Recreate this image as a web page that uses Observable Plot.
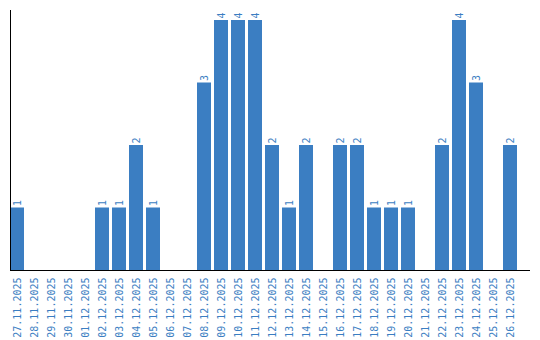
<!DOCTYPE html>
<html><head><meta charset="utf-8">
<script src="https://cdn.jsdelivr.net/npm/d3@7"></script>
<script src="https://cdn.jsdelivr.net/npm/@observablehq/plot@0.6"></script>
<style>body{margin:0;background:#fff}#c{width:540px;height:340px}</style>
</head><body><div id="c"></div>
<script>
const dates = ["27.11.2025","28.11.2025","29.11.2025","30.11.2025","01.12.2025","02.12.2025","03.12.2025","04.12.2025","05.12.2025","06.12.2025","07.12.2025","08.12.2025","09.12.2025","10.12.2025","11.12.2025","12.12.2025","13.12.2025","14.12.2025","15.12.2025","16.12.2025","17.12.2025","18.12.2025","19.12.2025","20.12.2025","21.12.2025","22.12.2025","23.12.2025","24.12.2025","25.12.2025","26.12.2025"];
const counts = [1,0,0,0,0,1,1,2,1,0,0,3,4,4,4,2,1,2,0,2,2,1,1,1,0,2,4,3,0,2];
const data = dates.map((d,i)=>({date:d, count:counts[i]}));
const nonZero = data.filter(d=>d.count>0);
const blue = "#3b7ec2";
const chart = Plot.plot({
  width: 540, height: 340,
  marginLeft: 10, marginRight: 10, marginTop: 10, marginBottom: 70,
  style: {fontFamily: "DejaVu Sans Mono", fontSize: "10px", background: "#fff"},
  x: {domain: dates, range: [10, 517], paddingInner: 3/17, paddingOuter: 0, align: 0},
  y: {domain: [0, 4], range: [270, 20], axis: null},
  marks: [
    Plot.barY(data, {x: "date", y: "count", fill: blue}),
    Plot.text(nonZero, {x: "date", y: "count", text: d=>String(d.count), rotate: -90, textAnchor: "start", dy: -2, fill: blue, fontSize: 10}),
    Plot.axisX({tickSize: 0, tickRotate: -90, tickPadding: 7, fill: blue, fontSize: 10, label: null}),
    Plot.ruleY([0], {stroke: "#000", strokeWidth: 1}),
    Plot.frame({anchor: "left", stroke: "#000", strokeWidth: 1})
  ]
});
document.getElementById("c").appendChild(chart);
</script></body></html>
